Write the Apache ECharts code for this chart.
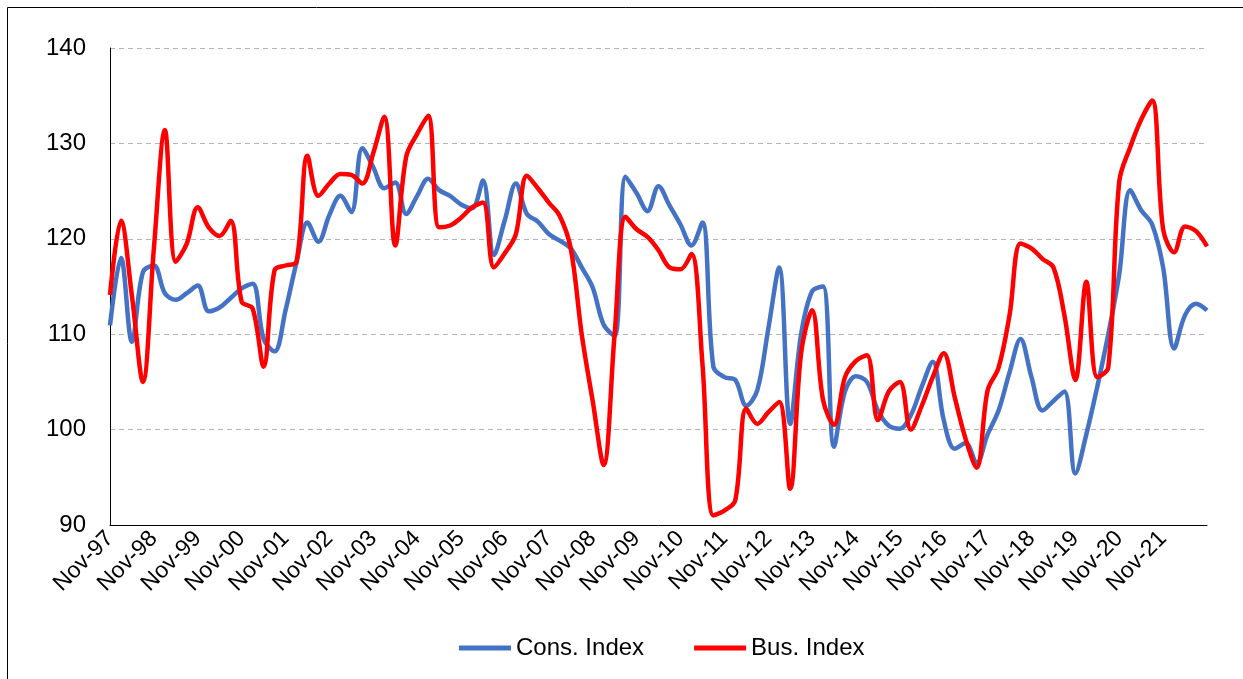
<!DOCTYPE html>
<html>
<head>
<meta charset="utf-8">
<style>
  html, body { margin: 0; padding: 0; background: #fff; }
  #chart { width: 1243px; height: 679px; }
</style>
<script src="https://cdn.jsdelivr.net/npm/echarts@6/dist/echarts.min.js"></script>
</head>
<body>
<div id="chart"></div>
<script>
// quarterly points, Nov-97 .. Nov-22
const quarterMonths = ["Nov", "Feb", "May", "Aug"];
const yTicks = [90, 100, 110, 120, 130, 140];

// prettier-ignore
const consIndex = [
  110.9, 118.0, 109.2, 116.5, 117.2, 114.3, 113.6, 114.3, 115.1, 112.4,
  112.8, 113.8, 114.8, 115.3, 109.5, 108.2, 112.5, 117.5, 121.7, 119.7,
  122.5, 124.5, 122.8, 129.5, 127.5, 125.3, 125.9, 122.6, 124.5, 126.3,
  125.1, 124.5, 123.6, 123.2, 126.1, 118.3, 122.0, 125.8, 122.6, 121.8,
  120.5, 119.8, 119.0, 117.0, 114.9, 111.0, 109.8, 126.5, 124.8, 122.9,
  125.5, 123.5, 121.5, 119.3, 121.7, 106.6, 105.5, 105.2, 102.5, 104.1,
  110.5, 117.0, 100.6, 110.0, 114.5, 115.0, 98.2, 104.0, 105.6, 105.0,
  102.0, 100.4, 100.1, 101.5, 104.5, 107.1, 101.0, 98.0, 98.6, 96.5,
  99.5, 102.0, 106.0, 109.5, 105.5, 102.0, 103.0, 104.0, 95.4, 99.5,
  104.5, 110.0, 116.3, 125.1, 123.0, 121.5, 117.0, 108.5, 112.0, 113.2,
  112.5,
];
// prettier-ignore
const busIndex = [
  114.1, 121.9, 114.0, 105.0, 119.0, 131.4, 117.6, 119.5, 123.3, 121.2,
  120.3, 121.9, 113.4, 112.7, 106.6, 116.7, 117.2, 117.6, 128.7, 124.5,
  125.8, 126.8, 126.7, 125.8, 129.0, 132.8, 119.3, 128.6, 131.0, 132.9,
  121.2, 121.4, 122.2, 123.3, 123.8, 117.0, 118.5, 120.5, 126.6, 125.3,
  123.8, 122.4, 119.0, 110.0, 103.0, 96.3, 110.0, 122.3, 121.0, 120.2,
  118.8, 117.0, 116.8, 118.4, 107.0, 91.0, 91.5, 92.6, 102.2, 100.6,
  101.8, 102.9, 93.8, 108.0, 112.5, 103.1, 100.5, 105.5, 107.2, 107.8,
  101.0, 104.0, 105.0, 100.0, 102.5, 105.5, 108.0, 103.4, 99.0, 96.0,
  104.1, 106.5, 112.0, 119.5, 119.0, 117.9, 117.0, 112.0, 105.2, 115.5,
  105.5, 106.5, 126.0, 129.6, 132.5, 134.5, 121.0, 118.6, 121.3, 120.8,
  119.2,
];

const categories = [];
for (let i = 0; i < consIndex.length; i += 1) {
  const m = quarterMonths[i % 4];
  const yr = (1997 + Math.ceil(i / 4)) % 100;
  categories.push(m + "-" + String(yr).padStart(2, "0"));
}

const chart = echarts.init(document.getElementById("chart"));
const font = "Liberation Sans, Arial, sans-serif";

const option = {
  animation: false,
  backgroundColor: "#fff",
  textStyle: { fontFamily: font },
  graphic: [
    {
      type: "rect",
      shape: { x: 7.5, y: 7.5, width: 1300, height: 700 },
      style: { fill: "none", stroke: "#000", lineWidth: 1 },
      silent: true,
    },
  ],
  grid: { left: 110, top: 48, right: 36, bottom: 154, containLabel: false },
  legend: {
    left: 454,
    top: 631,
    icon: "rect",
    itemWidth: 52,
    itemHeight: 5,
    itemGap: 50,
    textStyle: { fontSize: 24, color: "#000", fontFamily: font },
    data: ["Cons. Index", "Bus. Index"],
  },
  xAxis: {
    type: "category",
    boundaryGap: false,
    data: categories,
    axisLine: { lineStyle: { color: "#000", width: 1 } },
    axisTick: { show: false },
    axisLabel: {
      interval: (index) => index % 4 === 0 && index < 100,
      rotate: 45,
      margin: 10,
      fontSize: 23,
      color: "#000",
      fontFamily: font,
    },
    splitLine: { show: false },
  },
  yAxis: {
    type: "value",
    min: yTicks[0],
    max: yTicks[yTicks.length - 1],
    interval: 10,
    axisLine: { show: true, lineStyle: { color: "#000", width: 1 } },
    axisTick: { show: false },
    axisLabel: { fontSize: 24, color: "#000", margin: 24, fontFamily: font },
    splitLine: { lineStyle: { color: "#b4b4b4", type: [5, 4], width: 1.2 } },
  },
  series: [
    {
      name: "Cons. Index",
      type: "line",
      data: consIndex,
      smooth: 0.35,
      showSymbol: false,
      lineStyle: { color: "#4472C4", width: 4.5 },
      itemStyle: { color: "#4472C4" },
    },
    {
      name: "Bus. Index",
      type: "line",
      data: busIndex,
      smooth: 0.35,
      showSymbol: false,
      lineStyle: { color: "#FF0000", width: 4.5 },
      itemStyle: { color: "#FF0000" },
    },
  ],
};

chart.setOption(option);
</script>
</body>
</html>
